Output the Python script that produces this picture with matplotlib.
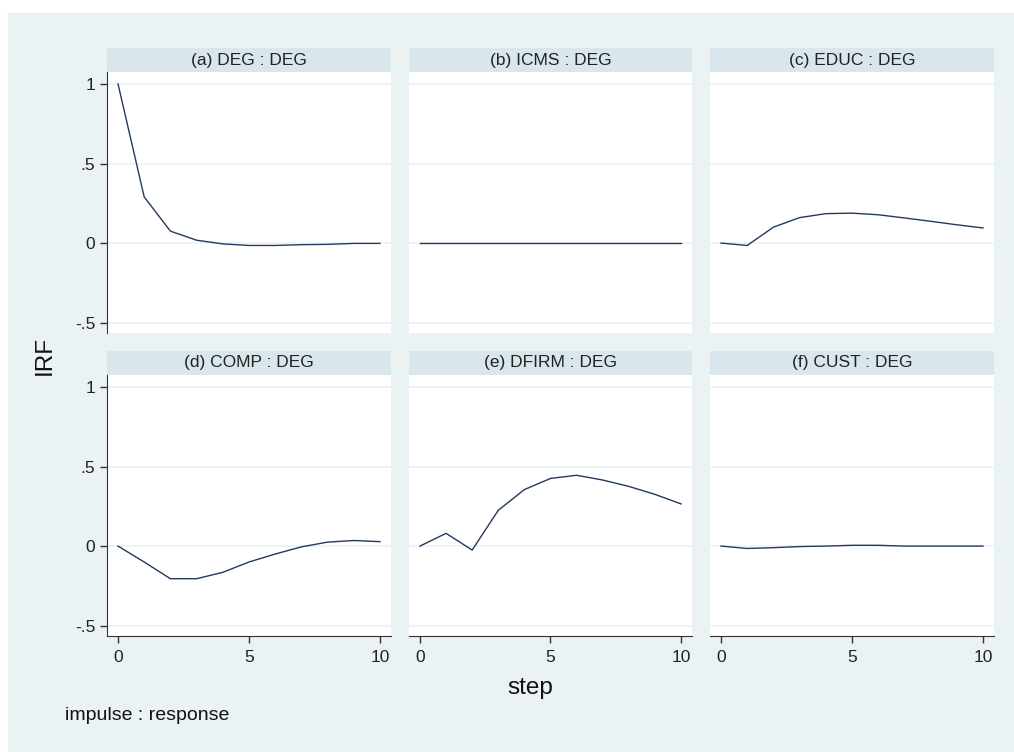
import numpy as np
import matplotlib
matplotlib.use("Agg")
import matplotlib.pyplot as plt
from matplotlib.patches import Rectangle

plt.rcParams['font.family'] = ['Liberation Sans', 'DejaVu Sans']

# impulse response values, steps 0..10
steps = np.arange(11)
titles = ['(a) DEG : DEG', '(b) ICMS : DEG', '(c) EDUC : DEG',
          '(d) COMP : DEG', '(e) DFIRM : DEG', '(f) CUST : DEG']
irf_deg = [1.0, 0.29, 0.075, 0.018, -0.005, -0.015, -0.015, -0.01, -0.008, -0.002, -0.002]
irf_icms = [0.0, 0.0, 0.0, 0.0, 0.0, 0.0, 0.0, 0.0, 0.0, 0.0, 0.0]
irf_educ = [0.0, -0.015, 0.10, 0.16, 0.185, 0.188, 0.178, 0.158, 0.137, 0.115, 0.095]
irf_comp = [0.0, -0.10, -0.205, -0.205, -0.165, -0.10, -0.05, -0.005, 0.025, 0.035, 0.028]
irf_dfirm = [0.0, 0.08, -0.025, 0.225, 0.355, 0.425, 0.445, 0.415, 0.375, 0.325, 0.265]
irf_cust = [0.0, -0.015, -0.01, -0.003, 0.0, 0.005, 0.005, 0.0, 0.0, 0.0, 0.0]
series = [irf_deg, irf_icms, irf_educ, irf_comp, irf_dfirm, irf_cust]

ytick_vals = [-0.5, 0, 0.5, 1]
ytick_labels = ['-.5', '0', '.5', '1']
xtick_vals = [0, 5, 10]

W, H = 1014, 752
bg = '#eaf2f3'
strip = '#d9e6eb'
line_col = '#24395e'

fig = plt.figure(figsize=(W / 100, H / 100), dpi=100)
fig.patch.set_facecolor('white')
fig.patches.append(Rectangle((8 / W, 0), 1 - 8 / W, 1 - 13 / H,
                             transform=fig.transFigure, color=bg, zorder=-10))


def px_rect(x0, y0, x1, y1):
    # pixel box (top-left origin) -> figure fraction
    return [x0 / W, 1 - y1 / H, (x1 - x0) / W, (y1 - y0) / H]


col_x = [(107, 391), (409, 692), (710, 994)]
row_y = [(48, 72, 333), (351, 375, 636)]

for i in range(6):
    r, c = divmod(i, 3)
    x0, x1 = col_x[c]
    hy0, py0, py1 = row_y[r]

    hax = fig.add_axes(px_rect(x0, hy0, x1, py0))
    hax.set_facecolor(strip)
    hax.set_xticks([])
    hax.set_yticks([])
    for s in hax.spines.values():
        s.set_visible(False)
    hax.text(0.5, 0.5, titles[i], ha='center', va='center', fontsize=12.5,
             color='#222222', transform=hax.transAxes)

    ax = fig.add_axes(px_rect(x0, py0, x1, py1))
    ax.set_facecolor('white')
    ax.set_xlim(-0.42, 10.42)
    ax.set_ylim(-0.565, 1.075)
    for yv in ytick_vals:
        ax.axhline(yv, color=bg, lw=1.2, zorder=1)
    ax.plot(steps, series[i], color=line_col, lw=1.0, zorder=3)

    for s in ax.spines.values():
        s.set_visible(False)
    ax.tick_params(colors='#333333', labelcolor='#222222', labelsize=12.5,
                   length=5, width=1)
    if c == 0:
        ax.spines['left'].set_visible(True)
        ax.spines['left'].set_color('#333333')
        ax.set_yticks(ytick_vals)
        ax.set_yticklabels(ytick_labels)
    else:
        ax.set_yticks([])
    if r == 1:
        ax.spines['bottom'].set_visible(True)
        ax.spines['bottom'].set_color('#333333')
        ax.set_xticks(xtick_vals)
        ax.tick_params(axis='x', pad=5)
    else:
        ax.set_xticks([])

fig.text(45 / W, 1 - 355 / H, 'IRF', rotation=90, ha='center', va='center',
         fontsize=17.5, color='#111111')
fig.text(530 / W, 1 - 688 / H, 'step', ha='center', va='center',
         fontsize=17.5, color='#111111')
fig.text(65 / W, 1 - 715 / H, 'impulse : response', ha='left', va='center',
         fontsize=14, color='#111111')

fig.savefig('out.png', dpi=100, facecolor=fig.get_facecolor())
